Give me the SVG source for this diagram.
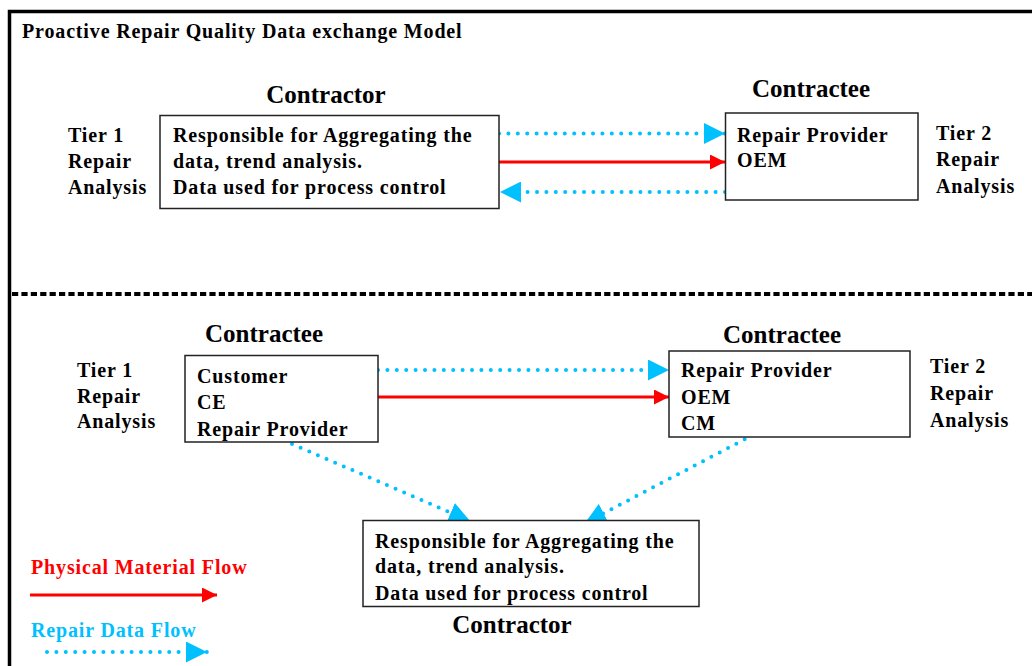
<svg xmlns="http://www.w3.org/2000/svg" width="1032" height="666" viewBox="0 0 1032 666">
<style>
text{font-family:"Liberation Serif","Times New Roman",serif;font-weight:bold;fill:#000}
.t{font-size:20px;letter-spacing:0.85px}
.h{font-size:25px;text-anchor:middle}
.box{fill:#fff;stroke:#222;stroke-width:1.5}
.data{fill:none;stroke:#00C0FF;stroke-width:4;stroke-linecap:round;stroke-dasharray:0 9.4}
.mat{fill:none;stroke:#FF0000;stroke-width:3}
</style>
<defs>
<marker id="ac" markerUnits="userSpaceOnUse" markerWidth="21" markerHeight="21" refX="21" refY="10.5" orient="auto" viewBox="0 0 21 21"><path d="M0,0 L21,10.5 L0,21 z" fill="#00C0FF"/></marker>
<marker id="ar" markerUnits="userSpaceOnUse" markerWidth="15" markerHeight="15" refX="15" refY="7.5" orient="auto" viewBox="0 0 15 15"><path d="M0,0 L15,7.5 L0,15 z" fill="#FF0000"/></marker>
</defs>
<rect x="9.5" y="11.5" width="1040" height="700" fill="none" stroke="#000" stroke-width="3.5"/>
<line x1="12" y1="294" x2="1032" y2="294" stroke="#000" stroke-width="4" stroke-dasharray="6.2 3.2"/>
<text class="t" x="22" y="38">Proactive Repair Quality Data exchange Model</text>
<g id="connectors">
<line class="data" x1="499" y1="133.5" x2="725" y2="133.5" marker-end="url(#ac)"/>
<line class="mat" x1="499" y1="162" x2="725" y2="162" marker-end="url(#ar)"/>
<line class="data" x1="725" y1="192" x2="500" y2="192" marker-end="url(#ac)"/>
<line class="data" x1="378" y1="370" x2="669" y2="370" marker-end="url(#ac)"/>
<line class="mat" x1="378" y1="397" x2="669" y2="397" marker-end="url(#ar)"/>
<line class="data" x1="292" y1="444" x2="470" y2="521" marker-end="url(#ac)"/>
<line class="data" x1="753" y1="435" x2="585" y2="523" marker-end="url(#ac)"/>
</g>
<g id="top-contractor">
<text class="h" x="326" y="103">Contractor</text>
<rect class="box" x="160" y="115.5" width="339" height="93"/>
<text class="t" x="173" y="142">Responsible for Aggregating the</text>
<text class="t" x="173" y="168">data, trend analysis.</text>
<text class="t" x="173" y="194">Data used for process control</text>
</g>
<g id="top-tier1">
<text class="t" x="68" y="142">Tier 1</text>
<text class="t" x="68" y="168">Repair</text>
<text class="t" x="68" y="194">Analysis</text>
</g>
<g id="top-contractee">
<text class="h" x="811" y="97">Contractee</text>
<rect class="box" x="725.5" y="113" width="192.5" height="87"/>
<text class="t" x="737" y="142">Repair Provider</text>
<text class="t" x="737" y="167">OEM</text>
</g>
<g id="top-tier2">
<text class="t" x="936" y="140">Tier 2</text>
<text class="t" x="936" y="166">Repair</text>
<text class="t" x="936" y="193">Analysis</text>
</g>
<g id="bottom-tier1">
<text class="t" x="77" y="377">Tier 1</text>
<text class="t" x="77" y="403">Repair</text>
<text class="t" x="77" y="428">Analysis</text>
</g>
<g id="bottom-contractee-left">
<text class="h" x="264" y="342">Contractee</text>
<rect class="box" x="185" y="355.5" width="193" height="86.5"/>
<text class="t" x="197" y="383">Customer</text>
<text class="t" x="197" y="409">CE</text>
<text class="t" x="197" y="436">Repair Provider</text>
</g>
<g id="bottom-contractee-right">
<text class="h" x="782" y="343">Contractee</text>
<rect class="box" x="669" y="351" width="241" height="86"/>
<text class="t" x="681" y="377">Repair Provider</text>
<text class="t" x="681" y="404">OEM</text>
<text class="t" x="681" y="430">CM</text>
</g>
<g id="bottom-tier2">
<text class="t" x="930" y="373">Tier 2</text>
<text class="t" x="930" y="400">Repair</text>
<text class="t" x="930" y="427">Analysis</text>
</g>
<g id="bottom-contractor">
<rect class="box" x="363" y="520.5" width="336" height="86"/>
<text class="t" x="375" y="548">Responsible for Aggregating the</text>
<text class="t" x="375" y="573">data, trend analysis.</text>
<text class="t" x="375" y="600">Data used for process control</text>
<text class="h" x="512" y="633">Contractor</text>
</g>
<g id="legend">
<text class="t" x="31" y="574" style="fill:#FF0000">Physical Material Flow</text>
<line class="mat" x1="30" y1="595" x2="217" y2="595" marker-end="url(#ar)"/>
<text class="t" x="31" y="637" style="fill:#00C0FF">Repair Data Flow</text>
<line class="data" x1="47" y1="652" x2="207" y2="652" marker-end="url(#ac)"/>
</g>
</svg>
